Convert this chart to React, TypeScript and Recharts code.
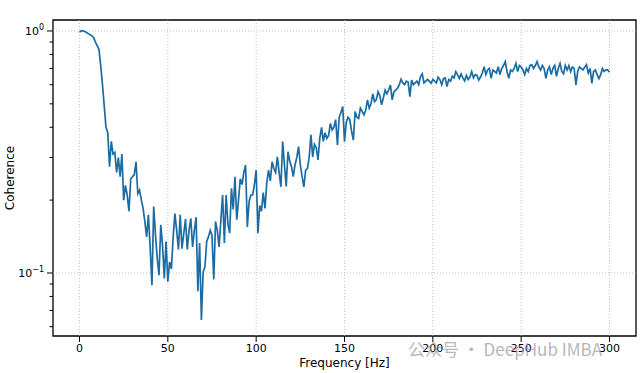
import React from 'react';
import { LineChart, Line, XAxis, YAxis, ReferenceLine, ReferenceArea } from 'recharts';

const startHz = 0;
const stepHz = 1;
const coherence = [
  0.99, 1.0, 1.0, 0.995, 0.985, 0.975, 0.965, 0.955, 0.94, 0.9,
  0.87, 0.84, 0.72, 0.6, 0.49, 0.4, 0.38, 0.275, 0.35, 0.31,
  0.315, 0.26, 0.3, 0.25, 0.31, 0.2, 0.23, 0.21, 0.18, 0.245,
  0.25, 0.255, 0.288, 0.213, 0.22, 0.2, 0.185, 0.163, 0.141, 0.174,
  0.127, 0.089, 0.188, 0.144, 0.115, 0.098, 0.158, 0.13, 0.095, 0.135,
  0.092, 0.111, 0.104, 0.14, 0.176, 0.15, 0.125, 0.174, 0.126, 0.145,
  0.167, 0.125, 0.15, 0.168, 0.128, 0.15, 0.17, 0.084, 0.133, 0.064,
  0.101, 0.106, 0.135, 0.141, 0.15, 0.143, 0.094, 0.163, 0.15, 0.128,
  0.165, 0.21, 0.133, 0.21, 0.16, 0.146, 0.224, 0.183, 0.25, 0.166,
  0.2, 0.245, 0.232, 0.26, 0.279, 0.155, 0.197, 0.21, 0.21, 0.232,
  0.266, 0.146, 0.19, 0.18, 0.215, 0.185, 0.235, 0.266, 0.24, 0.288,
  0.27, 0.26, 0.302, 0.26, 0.227, 0.349, 0.28, 0.228, 0.317, 0.29,
  0.275, 0.25, 0.28, 0.3, 0.333, 0.28, 0.25, 0.227, 0.266, 0.27,
  0.3, 0.372, 0.302, 0.34, 0.33, 0.293, 0.36, 0.4, 0.35, 0.38,
  0.36, 0.37, 0.415, 0.39, 0.4, 0.43, 0.338, 0.44, 0.46, 0.487,
  0.349, 0.42, 0.44, 0.43, 0.385, 0.354, 0.465, 0.44, 0.435, 0.48,
  0.465, 0.45, 0.47, 0.519, 0.48, 0.5, 0.55, 0.51, 0.52, 0.561,
  0.54, 0.495, 0.53, 0.57, 0.55, 0.57, 0.598, 0.519, 0.56, 0.57,
  0.58, 0.6, 0.632, 0.61, 0.6, 0.62, 0.615, 0.535, 0.627, 0.6,
  0.61, 0.62, 0.6, 0.647, 0.665, 0.61, 0.62, 0.63, 0.62, 0.608,
  0.63, 0.62, 0.61, 0.645, 0.63, 0.6, 0.635, 0.64, 0.589, 0.63,
  0.62, 0.65, 0.64, 0.679, 0.658, 0.637, 0.665, 0.64, 0.622, 0.655,
  0.63, 0.645, 0.679, 0.64, 0.66, 0.655, 0.627, 0.645, 0.67, 0.712,
  0.66, 0.69, 0.7, 0.637, 0.69, 0.68, 0.67, 0.712, 0.66, 0.7,
  0.72, 0.747, 0.68, 0.637, 0.69, 0.68, 0.7, 0.735, 0.68, 0.72,
  0.71, 0.69, 0.66, 0.7, 0.68, 0.72, 0.725, 0.7, 0.72, 0.747,
  0.71, 0.69, 0.72, 0.7, 0.637, 0.69, 0.712, 0.66, 0.7, 0.72,
  0.65, 0.7, 0.735, 0.68, 0.665, 0.72, 0.69, 0.72, 0.68, 0.71,
  0.7, 0.598, 0.68, 0.71, 0.7, 0.69, 0.71, 0.725, 0.67, 0.7,
  0.608, 0.68, 0.69, 0.66, 0.635, 0.66, 0.7, 0.68, 0.69, 0.69,
  0.675,
];

const xTicks = [0, 50, 100, 150, 200, 250, 300];
const xDomain = [-15, 315];
const yDomain = [0.0549, 1.11];
const yMajorTicks = [0.1, 1];
const yMajorLabels = ['−1', '0'];
const yMinorTicks = [0.06, 0.07, 0.08, 0.09, 0.2, 0.3, 0.4, 0.5, 0.6, 0.7, 0.8, 0.9];

const title = 'Coherence between EEG Channel 1 and 2';
const xLabel = 'Frequency [Hz]';
const yLabel = 'Coherence';
const watermark = '公众号 · DeepHub IMBA';

const data = coherence.map((c, i) => ({ f: startHz + i * stepHz, c }));
const yTicks = [...yMinorTicks, ...yMajorTicks].sort((a, b) => a - b);

const FONT = 'DejaVu Sans, sans-serif';
const LINE_COLOR = '#1b6ca3';

const YTick = (props: any) => {
  const { x, y, payload } = props;
  const v = payload.value;
  const majorIdx = yMajorTicks.findIndex((m) => Math.abs(m - v) < 1e-9);
  const isMajor = majorIdx >= 0;
  const axisX = x + 9;
  const len = isMajor ? 6 : 3.5;
  return (
    <g>
      <line x1={axisX - len} x2={axisX} y1={y} y2={y} stroke="#000" strokeWidth={1} />
      {isMajor && (
        <text x={x} y={y} dy="0.35em" textAnchor="end" fontFamily={FONT} fontSize={11} fill="#000">
          <tspan>10</tspan>
          <tspan dy={-5} fontSize={8}>{yMajorLabels[majorIdx]}</tspan>
        </text>
      )}
    </g>
  );
};

const TitleLabel = (props: any) => {
  const vb = props.viewBox || {};
  return (
    <text x={vb.x + vb.width / 2} y={vb.y - 7} textAnchor="middle" fontFamily={FONT} fontSize={12} fill="#000">
      {title}
    </text>
  );
};

const XLabel = (props: any) => {
  const vb = props.viewBox || {};
  return (
    <text x={vb.x + vb.width / 2} y={vb.y + 31} textAnchor="middle" fontFamily={FONT} fontSize={12} fill="#000">
      {xLabel}
    </text>
  );
};

const YLabel = (props: any) => {
  const vb = props.viewBox || {};
  const cx = vb.x + 14;
  const cy = vb.y + vb.height / 2;
  return (
    <text x={cx} y={cy} transform={`rotate(-90, ${cx}, ${cy})`} textAnchor="middle" fontFamily={FONT} fontSize={12} fill="#000">
      {yLabel}
    </text>
  );
};

export default function App() {
  return (
    <div style={{ position: 'absolute', left: 0, top: 0, width: 640, height: 373, background: '#fff' }}>
      <LineChart width={640} height={373} data={data} margin={{ top: 20, right: 4, bottom: 0, left: 0 }}>
        <XAxis
          dataKey="f"
          type="number"
          domain={xDomain}
          ticks={xTicks}
          allowDataOverflow
          height={37}
          tickSize={6}
          tickMargin={2}
          axisLine={false}
          tickLine={{ stroke: '#000' }}
          tick={{ fontFamily: FONT, fontSize: 11, fill: '#000' }}
          label={<XLabel />}
        />
        <XAxis
          xAxisId="top"
          orientation="top"
          dataKey="f"
          type="number"
          domain={xDomain}
          height={0}
          tick={false}
          axisLine={false}
          tickLine={false}
          label={<TitleLabel />}
        />
        <YAxis
          type="number"
          scale="log"
          domain={yDomain}
          ticks={yTicks}
          allowDataOverflow
          width={53}
          tickSize={6}
          tickMargin={3}
          axisLine={false}
          tickLine={false}
          tick={<YTick />}
          interval={0}
          label={<YLabel />}
        />
        {xTicks.map((t) => (
          <ReferenceLine key={`gx${t}`} x={t} stroke="#b0b0b0" strokeWidth={0.8} strokeDasharray="1 2" />
        ))}
        {yMajorTicks.map((t) => (
          <ReferenceLine key={`gy${t}`} y={t} stroke="#b0b0b0" strokeWidth={0.8} strokeDasharray="1 2" />
        ))}
        <Line
          type="linear"
          dataKey="c"
          stroke={LINE_COLOR}
          strokeWidth={1.7}
          dot={false}
          isAnimationActive={false}
        />
        <ReferenceArea
          x1={xDomain[0]}
          x2={xDomain[1]}
          y1={yDomain[0]}
          y2={yDomain[1]}
          fill="none"
          fillOpacity={0}
          stroke="#000"
          strokeWidth={1.3}
          ifOverflow="visible"
        />
      </LineChart>
      <div
        style={{
          position: 'absolute',
          left: 408,
          top: 336,
          fontFamily: 'Noto Sans CJK SC, Noto Sans, sans-serif',
          fontSize: 17,
          color: 'rgba(150,150,150,0.7)',
          whiteSpace: 'nowrap',
          pointerEvents: 'none',
        }}
      >
        {watermark}
      </div>
    </div>
  );
}
